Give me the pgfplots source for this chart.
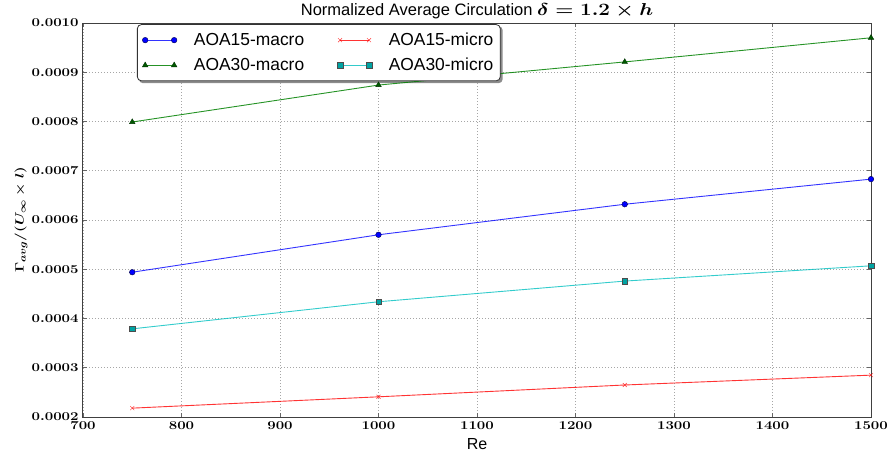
\documentclass[border=0pt]{standalone}
\usepackage[no-math]{fontspec}
\setmainfont{Liberation Sans}
\usepackage{graphicx}
\usepackage{pgfplots}
\pgfplotsset{compat=1.18}

\pgfdeclarelayer{background}
\pgfsetlayers{background,main}

\definecolor{mplblue}{rgb}{0,0,1}
\definecolor{mplgreen}{rgb}{0,0.5,0}
\definecolor{mplred}{rgb}{1,0,0}
\definecolor{mplcyan}{rgb}{0,0.75,0.75}

\begin{document}
\begin{tikzpicture}[x=1pt,y=1pt]
\useasboundingbox (-83,-36) rectangle (807,417);
\begin{axis}[
  at={(0,0)}, anchor=south west, scale only axis,
  width=788pt, height=394pt,
  xmin=700, xmax=1500, ymin=0.0002, ymax=0.0010,
  xtick={700,800,900,1000,1100,1200,1300,1400,1500},
  ytick={0.0002,0.0003,0.0004,0.0005,0.0006,0.0007,0.0008,0.0009,0.0010},
  scaled y ticks=false, scaled x ticks=false,
  y tick label style={/pgf/number format/.cd, fixed, fixed zerofill, precision=4},
  x tick label style={/pgf/number format/.cd, set thousands separator={}, /tikz/.cd, yshift=-1pt},
  tick label style={font=\fontsize{12}{14}\selectfont\boldmath, xscale=1.25},
  axis line style={black!75, line width=1pt},
  tick align=inside, major tick length=4pt,
  tick style={black!60, line width=0.6pt},
  grid=major,
  grid style={black!35, line width=0.6pt, dash pattern=on 1pt off 2pt},
  title={Normalized Average Circulation \scalebox{1.2}[1]{\boldmath$\delta = 1.2 \times h$}},
  title style={font=\fontsize{16.5}{20}\selectfont, at={(0.5,1)}, anchor=base,
    inner sep=0pt, yshift=2pt},
  xlabel={Re},
  xlabel style={font=\fontsize{16}{19}\selectfont, yshift=-2pt},
  ylabel={$\Gamma_{avg}/(U_\infty \times l)$},
  ylabel style={font=\fontsize{13}{15}\selectfont\boldmath, xscale=1.25,
    at={(axis description cs:-0.0787,0.5)}, anchor=center},
  legend columns=2,
  legend cell align=left,
  legend style={name=lgd, at={(rel axis cs:0.0685,0.997)}, anchor=north west,
    font=\fontsize{17.4}{21}\selectfont, draw=black!80, line width=0.8pt,
    rounded corners=4pt, fill=white,
    inner xsep=5pt, inner ysep=6.5pt, row sep=7pt,
    /tikz/every odd column/.append style={column sep=15pt},
    /tikz/every even column/.append style={column sep=31pt}},
  legend image code/.code={\draw[#1, line width=0.9pt] plot coordinates {(0pt,0pt) (29pt,0pt)};},
]
\addplot[mplblue, draw opacity=0.8, line width=0.9pt, mark=*, mark size=2.8pt,
  mark options={fill=mplblue, draw=black!70!blue, line width=0.4pt, draw opacity=1}]
  coordinates {(750,0.000494) (1000,0.000570) (1250,0.000632) (1500,0.000683)};
\addlegendentry{AOA15-macro}
\addplot[mplred, draw opacity=0.8, line width=0.9pt, mark=x, mark size=2.8pt,
  mark options={draw=mplred, line width=0.5pt, draw opacity=0.8}]
  coordinates {(750,0.000218) (1000,0.000241) (1250,0.000265) (1500,0.000285)};
\addlegendentry{AOA15-micro}
\addplot[mplgreen, draw opacity=0.85, line width=0.9pt, mark=triangle*, mark size=3.2pt,
  mark options={fill=black!30!mplgreen, draw=black!60!mplgreen, line width=0.4pt, draw opacity=1}]
  coordinates {(750,0.000799) (1000,0.000874) (1250,0.000921) (1500,0.000970)};
\addlegendentry{AOA30-macro}
\addplot[mplcyan, draw opacity=0.8, line width=0.9pt, mark=square*, mark size=2.8pt,
  mark options={fill=black!15!mplcyan, draw=black!70, line width=0.4pt, draw opacity=1}]
  coordinates {(750,0.000379) (1000,0.000434) (1250,0.000476) (1500,0.000507)};
\addlegendentry{AOA30-micro}
\end{axis}
% soft shadow behind the legend box
\begin{pgfonlayer}{background}
  \fill[black, opacity=0.45, rounded corners=4pt]
    ([shift={(2pt,-2pt)}]lgd.south west) rectangle ([shift={(2pt,-2pt)}]lgd.north east);
\end{pgfonlayer}
\end{tikzpicture}
\end{document}
